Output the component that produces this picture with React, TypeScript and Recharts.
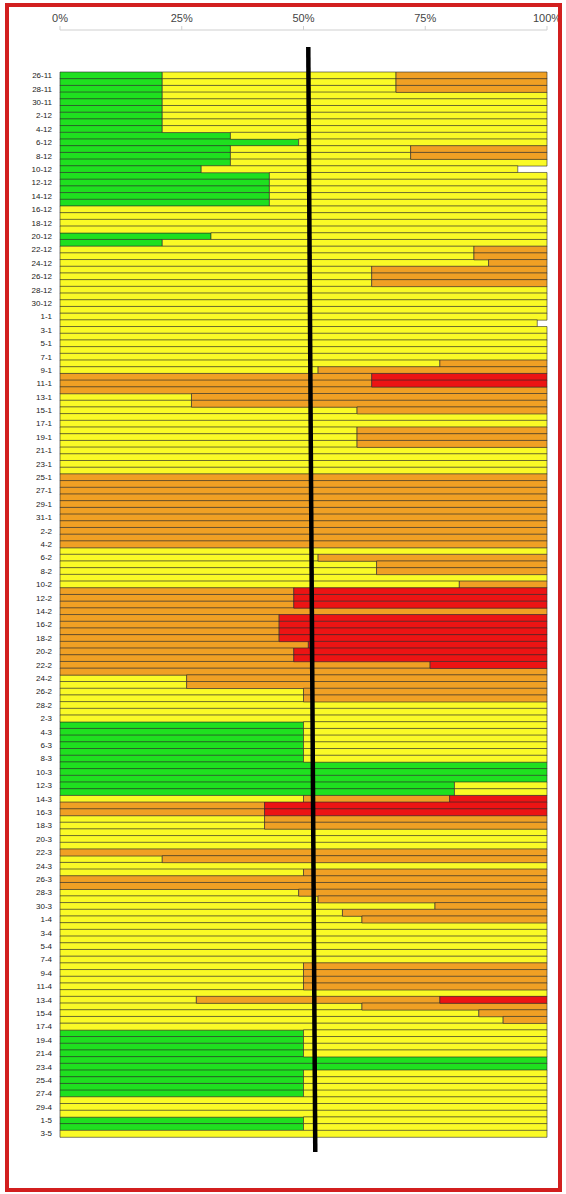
import { Bar, BarChart, ReferenceLine, XAxis, YAxis } from "recharts"

// one row per day, 26 Nov to 3 May
const dates = [
  ..."26-11 27-11 28-11 29-11 30-11".split(" "),
  ..."1-12 2-12 3-12 4-12 5-12 6-12 7-12 8-12 9-12 10-12 11-12 12-12 13-12 14-12 15-12 16-12 17-12 18-12 19-12 20-12 21-12 22-12 23-12 24-12 25-12 26-12 27-12 28-12 29-12 30-12 31-12".split(" "),
  ..."1-1 2-1 3-1 4-1 5-1 6-1 7-1 8-1 9-1 10-1 11-1 12-1 13-1 14-1 15-1 16-1 17-1 18-1 19-1 20-1 21-1 22-1 23-1 24-1 25-1 26-1 27-1 28-1 29-1 30-1 31-1".split(" "),
  ..."1-2 2-2 3-2 4-2 5-2 6-2 7-2 8-2 9-2 10-2 11-2 12-2 13-2 14-2 15-2 16-2 17-2 18-2 19-2 20-2 21-2 22-2 23-2 24-2 25-2 26-2 27-2 28-2".split(" "),
  ..."1-3 2-3 3-3 4-3 5-3 6-3 7-3 8-3 9-3 10-3 11-3 12-3 13-3 14-3 15-3 16-3 17-3 18-3 19-3 20-3 21-3 22-3 23-3 24-3 25-3 26-3 27-3 28-3 29-3 30-3 31-3".split(" "),
  ..."1-4 2-4 3-4 4-4 5-4 6-4 7-4 8-4 9-4 10-4 11-4 12-4 13-4 14-4 15-4 16-4 17-4 18-4 19-4 20-4 21-4 22-4 23-4 24-4 25-4 26-4 27-4 28-4 29-4 30-4".split(" "),
  ..."1-5 2-5 3-5".split(" "),
]

// share of the day (%) in each level
const green = [
  21, 21, 21, 21, 21,
  21, 21, 21, 21, 35, 49, 35, 35, 35, 29, 43, 43, 43, 43, 43, 0, 0, 0, 0, 31, 21, 0, 0, 0, 0, 0, 0, 0, 0, 0, 0,
  0, 0, 0, 0, 0, 0, 0, 0, 0, 0, 0, 0, 0, 0, 0, 0, 0, 0, 0, 0, 0, 0, 0, 0, 0, 0, 0, 0, 0, 0, 0,
  0, 0, 0, 0, 0, 0, 0, 0, 0, 0, 0, 0, 0, 0, 0, 0, 0, 0, 0, 0, 0, 0, 0, 0, 0, 0, 0, 0,
  0, 0, 50, 50, 50, 50, 50, 50, 100, 100, 100, 81, 81, 0, 0, 0, 0, 0, 0, 0, 0, 0, 0, 0, 0, 0, 0, 0, 0, 0, 0,
  0, 0, 0, 0, 0, 0, 0, 0, 0, 0, 0, 0, 0, 0, 0, 0, 0, 50, 50, 50, 50, 100, 100, 50, 50, 50, 50, 0, 0, 0,
  50, 50, 0,
]
const yellow = [
  48, 48, 48, 79, 79,
  79, 79, 79, 79, 65, 51, 37, 37, 65, 65, 57, 57, 57, 57, 57, 100, 100, 100, 100, 69, 79, 85, 85, 88, 64, 64, 64, 100, 100, 100, 100,
  100, 98, 100, 100, 100, 100, 100, 78, 53, 0, 0, 0, 27, 27, 61, 100, 100, 61, 61, 61, 100, 100, 100, 100, 0, 0, 0, 0, 0, 0, 0,
  0, 0, 0, 0, 100, 53, 65, 65, 100, 82, 0, 0, 0, 0, 0, 0, 0, 0, 0, 0, 0, 0, 0, 26, 26, 50, 50, 100,
  100, 100, 50, 50, 50, 50, 50, 50, 0, 0, 0, 19, 19, 50, 0, 0, 42, 42, 100, 100, 100, 0, 21, 100, 50, 0, 0, 49, 53, 77, 58,
  62, 100, 100, 100, 100, 100, 100, 50, 50, 50, 50, 100, 28, 62, 86, 91, 100, 50, 50, 50, 50, 0, 0, 50, 50, 50, 50, 100, 100, 100,
  50, 50, 100,
]
const orange = [
  31, 31, 31, 0, 0,
  0, 0, 0, 0, 0, 0, 28, 28, 0, 0, 0, 0, 0, 0, 0, 0, 0, 0, 0, 0, 0, 15, 15, 12, 36, 36, 36, 0, 0, 0, 0,
  0, 0, 0, 0, 0, 0, 0, 22, 47, 64, 64, 100, 73, 73, 39, 0, 0, 39, 39, 39, 0, 0, 0, 0, 100, 100, 100, 100, 100, 100, 100,
  100, 100, 100, 100, 0, 47, 35, 35, 0, 18, 48, 48, 48, 100, 45, 45, 45, 45, 51, 48, 48, 76, 100, 74, 74, 50, 50, 0,
  0, 0, 0, 0, 0, 0, 0, 0, 0, 0, 0, 0, 0, 30, 42, 42, 58, 58, 0, 0, 0, 100, 79, 0, 50, 100, 100, 51, 47, 23, 42,
  38, 0, 0, 0, 0, 0, 0, 50, 50, 50, 50, 0, 50, 38, 14, 9, 0, 0, 0, 0, 0, 0, 0, 0, 0, 0, 0, 0, 0, 0,
  0, 0, 0,
]
const red = [
  0, 0, 0, 0, 0,
  0, 0, 0, 0, 0, 0, 0, 0, 0, 0, 0, 0, 0, 0, 0, 0, 0, 0, 0, 0, 0, 0, 0, 0, 0, 0, 0, 0, 0, 0, 0,
  0, 0, 0, 0, 0, 0, 0, 0, 0, 36, 36, 0, 0, 0, 0, 0, 0, 0, 0, 0, 0, 0, 0, 0, 0, 0, 0, 0, 0, 0, 0,
  0, 0, 0, 0, 0, 0, 0, 0, 0, 0, 52, 52, 52, 0, 55, 55, 55, 55, 49, 52, 52, 24, 0, 0, 0, 0, 0, 0,
  0, 0, 0, 0, 0, 0, 0, 0, 0, 0, 0, 0, 0, 20, 58, 58, 0, 0, 0, 0, 0, 0, 0, 0, 0, 0, 0, 0, 0, 0, 0,
  0, 0, 0, 0, 0, 0, 0, 0, 0, 0, 0, 0, 22, 0, 0, 0, 0, 0, 0, 0, 0, 0, 0, 0, 0, 0, 0, 0, 0, 0,
  0, 0, 0,
]

const xTicks = [0, 25, 50, 75, 100]
const threshold = 51.7

const series = [
  { key: "green", color: "#1fe01f" },
  { key: "yellow", color: "#fafa26" },
  { key: "orange", color: "#f0a024" },
  { key: "red", color: "#ec1414" },
]

const data = dates.map((date, i) => ({
  date,
  green: green[i],
  yellow: yellow[i],
  orange: orange[i],
  red: red[i],
}))

// thick marker line, a little slanted like the hand-drawn original
const MarkerLine = (p: any) => {
  const top = Math.min(p.y1, p.y2)
  const bottom = Math.max(p.y1, p.y2)
  return <line x1={p.x1 - 3.5} y1={top + 17} x2={p.x1 + 3.5} y2={bottom} stroke="#000" strokeWidth={4.5} />
}

export default function App() {
  return (
    <div style={{ position: "absolute", left: 0, top: 0, width: 566, height: 1194, background: "#fff" }}>
      <BarChart
        width={566}
        height={1194}
        data={data}
        layout="vertical"
        margin={{ top: 0, right: 19, bottom: 42, left: 4 }}
        barCategoryGap={0}
        barGap={0}
      >
        <XAxis
          type="number"
          orientation="top"
          domain={[0, 100]}
          ticks={xTicks}
          tickFormatter={(v) => `${v}%`}
          height={30}
          axisLine={{ stroke: "#cfcfcf" }}
          tickLine={{ stroke: "#cfcfcf" }}
          tickSize={4}
          tickMargin={4}
          tick={{ fontSize: 11, fill: "#444", fontFamily: "Liberation Sans" }}
        />
        <YAxis
          type="category"
          dataKey="date"
          width={56}
          interval={1}
          axisLine={false}
          tickLine={false}
          padding={{ top: 42, bottom: 15 }}
          tick={{ fontSize: 8, fill: "#222", fontFamily: "Liberation Sans" }}
        />
        {series.map((s) => (
          <Bar
            key={s.key}
            dataKey={s.key}
            stackId="day"
            fill={s.color}
            stroke="#2a2a2a"
            strokeWidth={0.6}
            isAnimationActive={false}
          />
        ))}
        <ReferenceLine x={threshold} shape={MarkerLine} />
      </BarChart>
      <div
        style={{
          position: "absolute",
          left: 5,
          top: 3,
          width: 557,
          height: 1189,
          boxSizing: "border-box",
          border: "4px solid #d21f1f",
          pointerEvents: "none",
        }}
      />
    </div>
  )
}
